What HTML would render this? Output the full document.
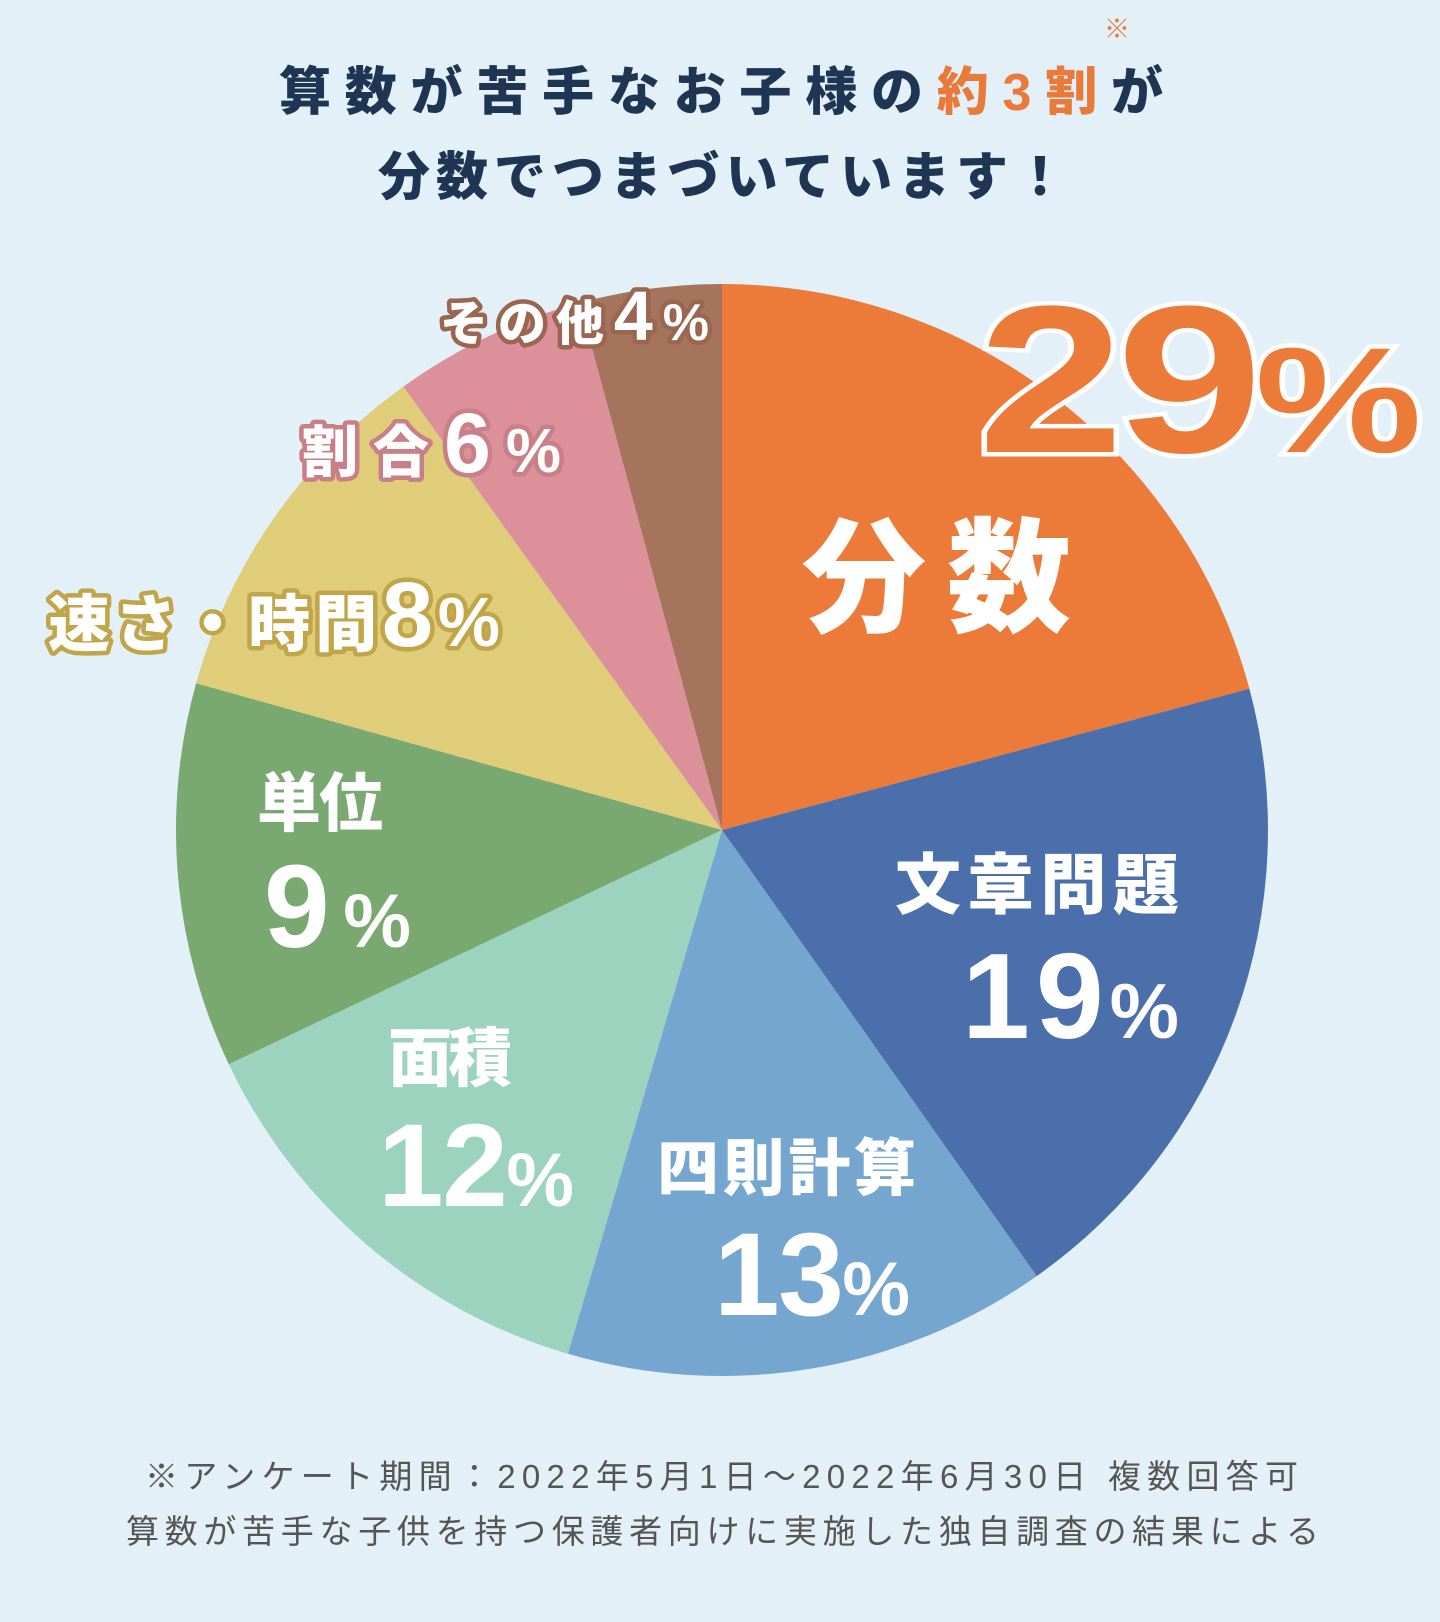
<!DOCTYPE html>
<html><head><meta charset="utf-8"><style>
html,body{margin:0;padding:0;background:#e3f0f7;}
svg{display:block;}
text{font-family:"Liberation Sans","Noto Sans CJK JP",sans-serif;font-weight:900;}
</style></head><body>
<svg width="1440" height="1622" viewBox="0 0 1440 1622" xmlns="http://www.w3.org/2000/svg">
<rect width="1440" height="1622" fill="#e3f0f7"/>
<g fill="#1f3554" font-size="52">
<text x="279" y="110" textLength="884" lengthAdjust="spacing">算数が苦手なお子様の<tspan fill="#e97a3a">約3割</tspan>が</text>
<text x="378" y="195" textLength="688" lengthAdjust="spacing">分数でつまづいています！</text>
</g>
<text x="1117" y="38" font-size="26" fill="#e97a3a" style="font-weight:400" text-anchor="middle">※</text>
<g stroke="none">
<path d="M722,830 L722,284 A546,546 0 0 1 1249.4,688.7 Z" fill="#ec7a38"/>
<path d="M722,830 L1249.4,688.7 A546,546 0 0 1 1036.7,1276.1 Z" fill="#4a6faa"/>
<path d="M722,830 L1036.7,1276.1 A546,546 0 0 1 567.9,1353.8 Z" fill="#75a6cf"/>
<path d="M722,830 L567.9,1353.8 A546,546 0 0 1 228.8,1064.2 Z" fill="#9bd3bf"/>
<path d="M722,830 L228.8,1064.2 A546,546 0 0 1 196.1,683.2 Z" fill="#79a970"/>
<path d="M722,830 L196.1,683.2 A546,546 0 0 1 403.4,386.6 Z" fill="#dfcd79"/>
<path d="M722,830 L403.4,386.6 A546,546 0 0 1 579.8,302.8 Z" fill="#dc9099"/>
<path d="M722,830 L579.8,302.8 A546,546 0 0 1 722,284 Z" fill="#a6745c"/>
</g>
<text transform="translate(978,452) scale(1.25,1)" x="0" y="0" font-size="210" textLength="355" lengthAdjust="spacing" fill="#ec7a38" stroke="#fff" stroke-width="9" paint-order="stroke">29<tspan font-size="150">%</tspan></text>
<g fill="#fff">
<text x="802" y="622" font-size="124" textLength="269" lengthAdjust="spacing">分数</text>
<text x="895" y="908" font-size="66" textLength="284" lengthAdjust="spacing">文章問題</text>
<text x="962" y="1038" font-size="122" textLength="217" lengthAdjust="spacing">19<tspan font-size="78">%</tspan></text>
<text x="657" y="1190" font-size="62" textLength="259" lengthAdjust="spacing">四則計算</text>
<text x="714" y="1315" font-size="118" textLength="196" lengthAdjust="spacing">13<tspan font-size="76">%</tspan></text>
<text x="388" y="1081" font-size="64" textLength="124" lengthAdjust="spacing">面積</text>
<text x="378" y="1206" font-size="118" textLength="196" lengthAdjust="spacing">12<tspan font-size="76">%</tspan></text>
<text x="257" y="826" font-size="64" textLength="126" lengthAdjust="spacing">単位</text>
<text x="264" y="947" font-size="118" textLength="147" lengthAdjust="spacing">9<tspan font-size="76">%</tspan></text>
</g>
<g fill="#fff" stroke-width="9" paint-order="stroke" stroke-linejoin="round">
<text x="48" y="646" font-size="62" stroke="#c0a649" textLength="452" lengthAdjust="spacing">速さ・時間<tspan font-size="92">8</tspan><tspan font-size="70">%</tspan></text>
<text x="302" y="472" font-size="56" stroke="#c97f88" textLength="259" lengthAdjust="spacing">割合<tspan font-size="84">6</tspan><tspan font-size="62">%</tspan></text>
<text x="440" y="340" font-size="48" stroke="#9a6650" textLength="269" lengthAdjust="spacing">その他<tspan font-size="70">4</tspan><tspan font-size="52">%</tspan></text>
</g>
<g fill="#555" font-size="33">
<text x="145" y="1488" style="font-weight:400" textLength="1153" lengthAdjust="spacing">※アンケート期間：2022年5月1日～2022年6月30日 複数回答可</text>
<text x="126" y="1543" style="font-weight:400" textLength="1193" lengthAdjust="spacing">算数が苦手な子供を持つ保護者向けに実施した独自調査の結果による</text>
</g>
</svg>
</body></html>
